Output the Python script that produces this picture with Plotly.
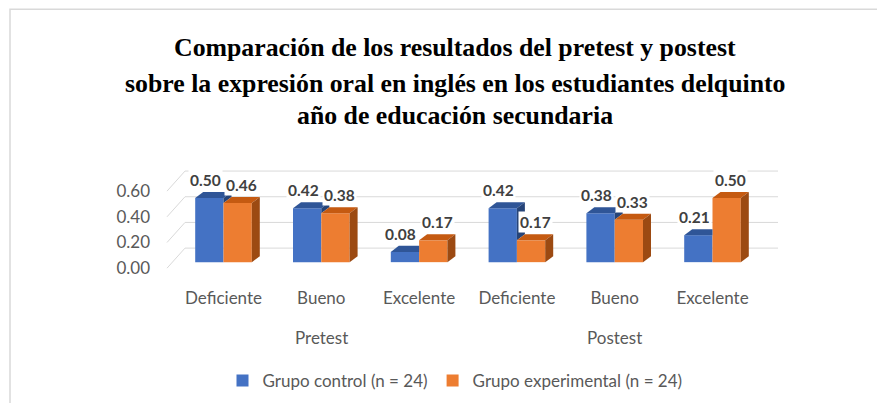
import plotly.graph_objects as go

# ---------------- data ----------------
categories = ["Deficiente", "Bueno", "Excelente", "Deficiente", "Bueno", "Excelente"]
phases = ["Pretest", "Postest"]
phase_center_idx = [1, 4]
control = [0.50, 0.42, 0.08, 0.42, 0.38, 0.21]
experimental = [0.46, 0.38, 0.17, 0.17, 0.33, 0.50]
series_names = ["Grupo control (n = 24)", "Grupo experimental (n = 24)"]
y_ticks = [0.0, 0.2, 0.4, 0.6]
title_lines = [
    "Comparación de los resultados del pretest y postest",
    "sobre la expresión oral en inglés en los estudiantes delquinto",
    "año de educación secundaria",
]

# ---------------- layout geometry (viewport pixels; page body has 8px margin) ----------------
BODY = 8
VW, VH = 885, 403
FW, FH = VW - BODY, VH - BODY
L, R = 160, 790
ymin, ymax = -0.1, 0.85
PX_PER_Y = 128.0
y0pix = 262.0
T = y0pix - ymax * PX_PER_Y
B = y0pix - ymin * PX_PER_Y
PX_PER_X = 97.8
x0pix = 223.5
xmin = (L - x0pix) / PX_PER_X
xmax = (R - x0pix) / PX_PER_X
PW, PH = R - L, B - T

def px_x(p):
    return (p - L) / PW

def px_y(p):
    return (B - p) / PH

bargap = 0.4213
w = (1 - bargap) / 2
dx = 8 / PX_PER_X
dy = 6 / PX_PER_Y

blue, blue_top, blue_side = "#4472C4", "#2F5597", "#264478"
orange, orange_top, orange_side = "#ED7D31", "#C55A11", "#9C4A12"
grid_c = "#D9D9D9"
txt_c = "#595959"
lab_c = "#404040"
FONT = "Lato"

xs = list(range(len(categories)))
fig = go.Figure()
fig.add_trace(go.Bar(x=xs, y=control, name=series_names[0], marker=dict(color=blue, line=dict(width=0))))
fig.add_trace(go.Bar(x=xs, y=experimental, name=series_names[1], marker=dict(color=orange, line=dict(width=0))))
# carrier for the value-axis tick labels (front-left edge of the 3D box)
fig.add_trace(go.Scatter(x=[xs[0]] * len(y_ticks), y=y_ticks, yaxis="y2", mode="markers",
                         marker=dict(opacity=0), hoverinfo="skip", showlegend=False))

shapes = []
wall_dy = 14 / PX_PER_Y
front_drop = 6 / PX_PER_Y
left_front = (167 - x0pix) / PX_PER_X
left_back = (185 - x0pix) / PX_PER_X
right_back = (778 - x0pix) / PX_PER_X
for v in y_ticks:
    shapes.append(dict(type="line", xref="x", yref="y", x0=left_front, y0=v - front_drop,
                       x1=left_back, y1=v + wall_dy, line=dict(color=grid_c, width=1), layer="below"))
    shapes.append(dict(type="line", xref="x", yref="y", x0=left_back, y0=v + wall_dy,
                       x1=right_back, y1=v + wall_dy, line=dict(color=grid_c, width=1), layer="below"))

def poly(pts, color):
    d = "M " + " L ".join(f"{a},{b}" for a, b in pts) + " Z"
    return dict(type="path", xref="x", yref="y", path=d, fillcolor=color,
                line=dict(width=0), layer="above")

for i in xs:
    vb, vo = control[i], experimental[i]
    bx0, bx1 = i - w, i
    ox0, ox1 = i, i + w
    if vb >= vo:
        shapes.append(poly([(bx0, vb), (bx1, vb), (bx1 + dx, vb + dy), (bx0 + dx, vb + dy)], blue_top))
        shapes.append(poly([(bx1, vo), (bx1, vb), (bx1 + dx, vb + dy), (bx1 + dx, vo + dy)], blue_side))
    else:
        shapes.append(poly([(bx0, vb), (bx1, vb), (bx1, vb + dy), (bx0 + dx, vb + dy)], blue_top))
    shapes.append(poly([(ox0, vo), (ox1, vo), (ox1 + dx, vo + dy), (ox0 + dx, vo + dy)], orange_top))
    shapes.append(poly([(ox1, 0), (ox1, vo), (ox1 + dx, vo + dy), (ox1 + dx, dy)], orange_side))

# outer chart border
shapes.append(dict(type="rect", xref="paper", yref="paper", x0=px_x(10), y0=px_y(10),
                   x1=px_x(900), y1=px_y(420), line=dict(color=grid_c, width=1.5), layer="below"))

annotations = []
for vals, off, xs_px in ((control, -w / 2, -4), (experimental, w / 2, 4)):
    for i, v in zip(xs, vals):
        annotations.append(dict(x=i + off, y=v, xref="x", yref="y", text=f"<b>{v:.2f}</b>", showarrow=False,
                                yanchor="bottom", yshift=7, xshift=xs_px, bgcolor="white", borderpad=1,
                                font=dict(family=FONT, size=15.5, color=lab_c)))
for name, idx in zip(phases, phase_center_idx):
    annotations.append(dict(x=idx, y=px_y(337), xref="x", yref="paper", text=name, showarrow=False,
                            yanchor="middle", font=dict(family=FONT, size=17, color=txt_c)))
for line, yc in zip(title_lines, (48, 84, 116)):
    annotations.append(dict(x=px_x(455), y=px_y(yc), xref="paper", yref="paper", text=f"<b>{line}</b>",
                            showarrow=False, xanchor="center", yanchor="middle",
                            font=dict(family="Liberation Serif", size=25.8, color="black")))

fig.update_layout(
    width=FW, height=FH, autosize=False,
    margin=dict(l=L - BODY, r=VW - R, t=T - BODY, b=VH - B, pad=0),
    paper_bgcolor="white", plot_bgcolor="rgba(0,0,0,0)",
    barmode="group", bargap=bargap, bargroupgap=0,
    showlegend=True,
    legend=dict(orientation="h", xref="container", yref="container", x=(455 - BODY) / FW,
                y=(VH - 381) / FH, xanchor="center", yanchor="middle",
                font=dict(family=FONT, size=17, color=txt_c), itemwidth=30, traceorder="normal"),
    xaxis=dict(range=[xmin, xmax], tickvals=xs, ticktext=categories, showgrid=False, zeroline=False,
               showline=False, ticks="", ticklabelstandoff=11,
               tickfont=dict(family=FONT, size=17, color=txt_c)),
    yaxis=dict(range=[ymin, ymax], showgrid=False, zeroline=False, showline=False,
               showticklabels=False, ticks=""),
    yaxis2=dict(range=[ymin + front_drop, ymax + front_drop], overlaying="y", side="left",
                tickvals=y_ticks, tickformat=".2f", showgrid=False, zeroline=False, showline=False,
                ticks="", ticklabelstandoff=9, tickfont=dict(family=FONT, size=17, color=txt_c)),
    shapes=shapes,
    annotations=annotations,
)

fig.write_html("out.html")
